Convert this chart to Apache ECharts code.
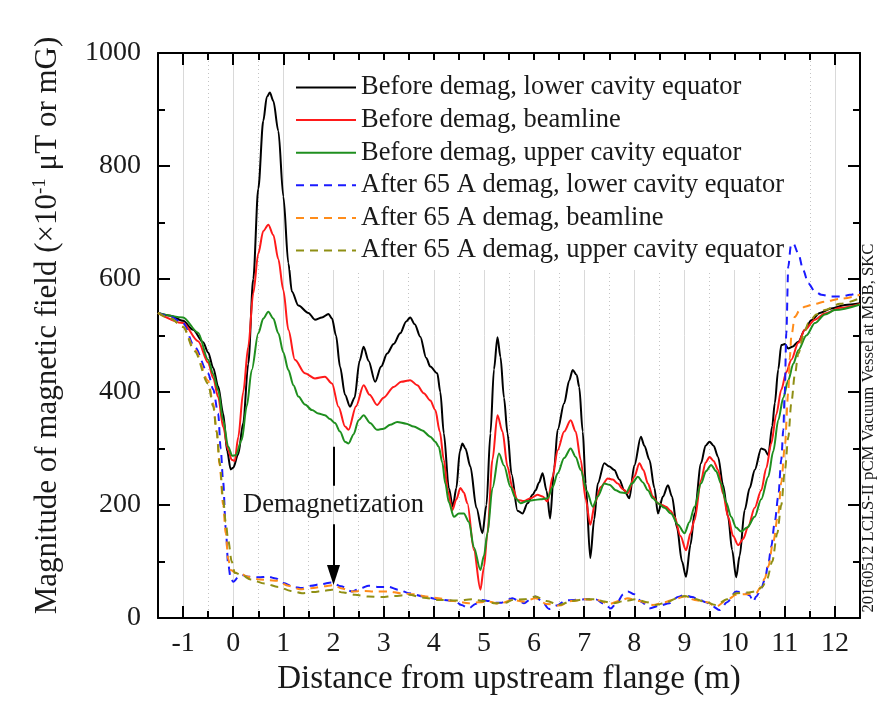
<!DOCTYPE html>
<html>
<head>
<meta charset="utf-8">
<script src="https://cdn.jsdelivr.net/npm/echarts@6/dist/echarts.min.js"></script>
<style>
  html, body { margin: 0; padding: 0; background: #fff; }
  #main { width: 877px; height: 716px; }
</style>
</head>
<body>
<div id="main"></div>
<script>
var seriesNames = [
    'Before demag, lower cavity equator',
    'Before demag, beamline',
    'Before demag, upper cavity equator',
    'After 65 A demag, lower cavity equator',
    'After 65 A demag, beamline',
    'After 65 A demag, upper cavity equator'
];
var seriesColors = ['#000000', '#ff1a1a', '#1f8f1f', '#1a1aff', '#ff8c1a', '#8f8f14'];

var xMajorTicks = [-1, 0, 1, 2, 3, 4, 5, 6, 7, 8, 9, 10, 11, 12];
var xMinorTicks = [-0.5, 0.5, 1.5, 2.5, 3.5, 4.5, 5.5, 6.5, 7.5, 8.5, 9.5, 10.5, 11.5];

// [distance (m), field]
var beforeLower = [[-1.5,540],[-1.25,535],[-1.0,526],[-0.8,510],[-0.6,488],[-0.5,470],[-0.4,443],[-0.3,410],[-0.2,362],[-0.12,295],[-0.05,263],[0.0,266],[0.1,290],[0.2,345],[0.3,450],[0.4,600],[0.5,760],[0.6,880],[0.67,922],[0.73,930],[0.8,915],[0.9,862],[1.0,746],[1.1,628],[1.17,578],[1.3,553],[1.5,540],[1.63,528],[1.77,532],[1.9,538],[1.97,530],[2.05,500],[2.13,445],[2.23,395],[2.33,374],[2.42,390],[2.52,455],[2.6,480],[2.7,455],[2.83,418],[2.95,445],[3.07,468],[3.2,485],[3.33,504],[3.45,525],[3.53,532],[3.62,520],[3.73,498],[3.85,460],[3.93,445],[4.07,433],[4.13,400],[4.2,327],[4.3,230],[4.38,197],[4.45,230],[4.52,295],[4.57,309],[4.63,300],[4.73,268],[4.85,195],[4.97,150],[5.05,200],[5.13,327],[5.2,440],[5.27,497],[5.33,462],[5.4,390],[5.47,327],[5.55,255],[5.67,190],[5.77,185],[5.87,203],[5.97,218],[6.03,226],[6.1,240],[6.17,256],[6.25,225],[6.32,176],[6.4,265],[6.47,333],[6.6,380],[6.7,420],[6.77,439],[6.85,430],[6.9,409],[6.97,330],[7.03,238],[7.12,106],[7.2,175],[7.27,238],[7.4,274],[7.5,268],[7.6,262],[7.7,245],[7.8,226],[7.9,212],[8.0,270],[8.13,321],[8.2,305],[8.3,280],[8.4,230],[8.47,185],[8.57,215],[8.67,235],[8.75,215],[8.85,160],[8.95,100],[9.03,73],[9.12,130],[9.2,185],[9.33,274],[9.42,305],[9.5,312],[9.58,305],[9.67,285],[9.77,235],[9.87,179],[9.95,120],[10.03,72],[10.1,110],[10.2,191],[10.3,230],[10.4,262],[10.53,300],[10.6,298],[10.67,288],[10.75,340],[10.8,380],[10.87,440],[10.93,483],[11.0,485],[11.07,477],[11.15,480],[11.27,489],[11.4,510],[11.53,527],[11.7,540],[11.93,548],[12.2,554],[12.5,557]];
var beforeBeam = [[-1.5,540],[-1.0,522],[-0.7,490],[-0.5,452],[-0.4,425],[-0.3,391],[-0.2,338],[-0.1,297],[-0.03,280],[0.03,278],[0.1,320],[0.2,400],[0.3,480],[0.4,575],[0.5,645],[0.6,685],[0.7,696],[0.8,678],[0.9,635],[1.0,580],[1.1,510],[1.23,457],[1.43,433],[1.63,424],[1.83,427],[1.97,415],[2.1,374],[2.23,339],[2.3,333],[2.45,375],[2.6,412],[2.72,395],[2.87,377],[3.0,390],[3.2,409],[3.35,418],[3.53,421],[3.67,412],[3.8,398],[3.93,385],[4.03,368],[4.12,330],[4.2,280],[4.28,225],[4.37,191],[4.45,210],[4.53,230],[4.6,222],[4.67,203],[4.8,120],[4.93,50],[5.0,90],[5.07,150],[5.17,280],[5.27,359],[5.37,330],[5.47,268],[5.57,230],[5.67,209],[5.8,207],[5.93,212],[6.07,218],[6.17,215],[6.27,206],[6.37,250],[6.47,297],[6.6,330],[6.73,350],[6.83,330],[6.93,280],[7.03,210],[7.12,165],[7.22,205],[7.33,232],[7.47,247],[7.57,245],[7.67,238],[7.77,228],[7.87,221],[8.0,250],[8.1,274],[8.18,262],[8.27,238],[8.37,215],[8.47,203],[8.55,200],[8.63,197],[8.72,190],[8.8,179],[8.92,145],[9.03,120],[9.12,150],[9.2,173],[9.33,244],[9.42,275],[9.5,285],[9.58,278],[9.67,262],[9.77,220],[9.87,179],[9.97,145],[10.07,129],[10.17,140],[10.27,162],[10.4,195],[10.53,226],[10.63,265],[10.73,309],[10.83,360],[10.93,404],[11.03,435],[11.13,457],[11.27,487],[11.4,510],[11.6,528],[11.8,539],[12.1,549],[12.5,556]];
var beforeUpper = [[-1.5,540],[-1.0,532],[-0.7,505],[-0.5,457],[-0.4,432],[-0.3,403],[-0.2,350],[-0.1,303],[-0.02,287],[0.05,288],[0.17,315],[0.27,375],[0.37,439],[0.5,504],[0.6,530],[0.7,542],[0.8,530],[0.9,504],[1.0,470],[1.1,439],[1.2,412],[1.3,392],[1.43,378],[1.57,368],[1.7,362],[1.83,359],[1.93,352],[2.03,345],[2.13,330],[2.23,312],[2.3,309],[2.4,325],[2.5,350],[2.6,359],[2.73,345],[2.87,333],[3.0,335],[3.13,342],[3.27,347],[3.45,344],[3.6,339],[3.77,332],[3.93,321],[4.03,312],[4.1,303],[4.17,275],[4.23,238],[4.3,205],[4.4,179],[4.5,185],[4.6,185],[4.7,170],[4.8,125],[4.93,85],[5.0,110],[5.07,150],[5.17,230],[5.3,291],[5.4,270],[5.53,232],[5.63,212],[5.73,203],[5.87,207],[6.0,209],[6.13,210],[6.27,212],[6.37,232],[6.47,256],[6.6,283],[6.73,300],[6.83,285],[6.93,262],[7.05,225],[7.17,197],[7.27,215],[7.4,238],[7.5,236],[7.63,226],[7.73,222],[7.83,221],[7.95,238],[8.07,250],[8.17,240],[8.27,226],[8.37,212],[8.47,203],[8.6,195],[8.73,185],[8.87,165],[9.0,150],[9.1,170],[9.2,197],[9.33,238],[9.43,260],[9.53,271],[9.63,260],[9.73,238],[9.83,205],[9.93,179],[10.03,160],[10.13,153],[10.25,160],[10.4,179],[10.53,210],[10.67,250],[10.77,295],[10.87,350],[10.97,390],[11.07,421],[11.17,450],[11.27,474],[11.43,500],[11.6,522],[11.8,537],[12.0,545],[12.5,555]];
var afterLower = [[-1.5,540],[-1.25,533],[-1.0,522],[-0.77,480],[-0.5,433],[-0.4,405],[-0.3,362],[-0.25,300],[-0.2,240],[-0.15,160],[-0.1,95],[-0.05,70],[0.0,64],[0.1,72],[0.17,76],[0.3,73],[0.5,72],[0.7,73],[0.85,70],[1.0,62],[1.2,55],[1.37,53],[1.55,57],[1.75,60],[1.97,63],[2.15,56],[2.37,47],[2.55,53],[2.7,57],[2.9,55],[3.1,55],[3.3,50],[3.5,44],[3.8,38],[4.1,33],[4.3,31],[4.43,29],[4.55,23],[4.7,17],[4.83,25],[4.97,32],[5.1,30],[5.23,27],[5.35,27],[5.45,32],[5.57,35],[5.7,30],[5.8,26],[5.93,33],[6.03,38],[6.15,30],[6.3,16],[6.45,22],[6.63,31],[6.8,32],[7.0,33],[7.23,33],[7.4,25],[7.53,17],[7.65,27],[7.78,42],[7.87,47],[8.0,42],[8.15,28],[8.3,17],[8.5,22],[8.7,26],[8.87,37],[9.0,41],[9.15,37],[9.3,32],[9.43,28],[9.57,20],[9.7,14],[9.85,28],[10.03,47],[10.2,44],[10.3,40],[10.37,29],[10.43,38],[10.52,50],[10.6,67],[10.67,95],[10.73,126],[10.8,170],[10.87,215],[10.93,280],[10.97,333],[11.0,400],[11.03,504],[11.07,622],[11.12,658],[11.17,663],[11.27,645],[11.37,615],[11.47,592],[11.6,578],[11.73,572],[11.93,569],[12.13,569],[12.3,572],[12.5,577]];
var afterBeam = [[-1.5,540],[-1.25,530],[-1.0,516],[-0.77,475],[-0.5,420],[-0.4,380],[-0.33,330],[-0.27,270],[-0.2,200],[-0.15,150],[-0.1,105],[-0.05,85],[0.05,80],[0.13,79],[0.3,73],[0.53,68],[0.7,67],[0.87,66],[1.1,57],[1.33,51],[1.6,53],[1.8,56],[2.0,58],[2.17,52],[2.37,47],[2.6,48],[2.83,47],[3.1,47],[3.33,44],[3.6,42],[3.85,38],[4.1,35],[4.4,30],[4.7,26],[4.9,28],[5.1,29],[5.3,25],[5.57,32],[5.8,29],[6.03,35],[6.25,25],[6.5,22],[6.75,30],[7.0,33],[7.25,32],[7.5,25],[7.7,30],[7.87,35],[8.1,30],[8.37,23],[8.6,28],[8.8,33],[9.0,38],[9.2,32],[9.45,28],[9.63,20],[9.85,32],[10.03,41],[10.2,42],[10.43,44],[10.52,55],[10.6,70],[10.67,91],[10.77,135],[10.87,185],[10.93,240],[11.0,303],[11.07,400],[11.1,460],[11.13,498],[11.2,533],[11.3,545],[11.4,551],[11.6,556],[11.8,560],[12.1,565],[12.5,572]];
var afterUpper = [[-1.5,540],[-1.25,530],[-1.0,515],[-0.77,472],[-0.5,415],[-0.4,375],[-0.33,330],[-0.27,275],[-0.2,210],[-0.15,170],[-0.1,138],[-0.03,100],[0.03,80],[0.17,76],[0.35,68],[0.63,61],[0.9,55],[1.15,48],[1.37,44],[1.6,46],[1.8,48],[1.97,50],[2.2,45],[2.43,41],[2.7,38],[2.97,37],[3.2,39],[3.5,41],[3.8,36],[4.1,32],[4.45,31],[4.77,33],[5.0,30],[5.23,26],[5.43,27],[5.57,32],[5.8,33],[6.03,38],[6.25,30],[6.5,23],[6.75,30],[7.0,33],[7.23,33],[7.4,29],[7.57,26],[7.8,30],[8.03,33],[8.25,28],[8.43,23],[8.65,28],[8.85,35],[9.0,39],[9.2,34],[9.4,29],[9.63,23],[9.85,33],[10.03,44],[10.25,45],[10.43,47],[10.55,55],[10.65,70],[10.75,100],[10.85,150],[10.93,200],[11.0,260],[11.07,320],[11.13,380],[11.2,430],[11.27,468],[11.37,500],[11.47,522],[11.63,537],[11.8,545],[12.1,556],[12.5,566]];

// annotation: "Demagnetization" with arrow at x = 2 m
var demagX = 2;
var demagTextY = 200;
var demagUpperLine = [303, 234];
var demagArrow = [166, 76];

var serif = 'Liberation Serif';
var ink = '#1a1a1a';
var myChart = echarts.init(document.getElementById('main'));

function xAxisPart(pos, ticks, tickLen, withLine, grid, labels) {
    return {
        type: 'value', min: -1.5, max: 12.5, position: pos,
        axisLine: { show: withLine, onZero: false, lineStyle: { color: '#000', width: 2 } },
        axisTick: { show: true, inside: true, length: tickLen, customValues: ticks,
            lineStyle: { color: '#000', width: 2 } },
        axisLabel: { show: labels, customValues: ticks, margin: 12,
            fontFamily: serif, fontSize: 28, color: ink },
        splitLine: grid
    };
}

var solidGrid = { show: true, lineStyle: { color: '#d9d9d9', width: 1 } };
var dottedGrid = { show: true, lineStyle: { color: '#c4c4c4', width: 1, type: [1, 3] } };

var xAxes = [
    xAxisPart('bottom', xMajorTicks, 12, true, solidGrid, true),
    xAxisPart('bottom', xMinorTicks, 7, false, dottedGrid, false),
    xAxisPart('top', xMajorTicks, 12, true, { show: false }, false),
    xAxisPart('top', xMinorTicks, 7, false, { show: false }, false)
];
xAxes[0].name = 'Distance from upstream flange (m)';
xAxes[0].nameLocation = 'middle';
xAxes[0].nameGap = 40;
xAxes[0].nameTextStyle = { fontFamily: serif, fontSize: 33, color: ink };

function yAxisPart(pos, labels) {
    return {
        type: 'value', min: 0, max: 1000, interval: 200, position: pos,
        axisLine: { show: true, onZero: false, lineStyle: { color: '#000', width: 2 } },
        axisTick: { show: true, inside: true, length: 12, lineStyle: { color: '#000', width: 2 } },
        minorTick: { show: true, splitNumber: 2, length: 7, lineStyle: { color: '#000', width: 2 } },
        axisLabel: { show: labels, margin: 17, fontFamily: serif, fontSize: 28, color: ink,
            formatter: function (v) { return String(v); } },
        splitLine: { show: false }
    };
}
var yAxes = [yAxisPart('left', true), yAxisPart('right', false)];
yAxes[0].name = 'Magnitude of magnetic field (×10{sup|-1} μT or mG)';
yAxes[0].nameLocation = 'middle';
yAxes[0].nameGap = 93;
yAxes[0].nameTextStyle = {
    fontFamily: serif, fontSize: 31, color: ink, lineHeight: 34,
    padding: [0, 0, 0, 20],
    rich: { sup: { fontFamily: serif, fontSize: 19, color: ink, verticalAlign: 'top', lineHeight: 19 } }
};

var seriesData = [beforeLower, beforeBeam, beforeUpper, afterLower, afterBeam, afterUpper];
var series = seriesData.map(function (d, i) {
    return {
        name: seriesNames[i],
        type: 'line',
        data: d,
        xAxisIndex: 0,
        yAxisIndex: 0,
        symbol: 'none',
        smooth: 0.3,
        smoothMonotone: 'x',
        z: 3 + i,
        lineStyle: { color: seriesColors[i], width: 2, type: i < 3 ? 'solid' : [8, 6] },
        itemStyle: { color: seriesColors[i] }
    };
});

series[0].markLine = {
    silent: true,
    animation: false,
    symbol: ['none', 'none'],
    label: { show: false },
    lineStyle: { color: '#000', width: 2, type: 'solid' },
    data: [
        [{ coord: [demagX, demagUpperLine[0]] }, { coord: [demagX, demagUpperLine[1]] }],
        [{ coord: [demagX, demagArrow[0]] },
         { coord: [demagX, demagArrow[1]], symbol: 'triangle', symbolSize: [13, 20] }]
    ]
};
series[0].markPoint = {
    silent: true,
    animation: false,
    symbol: 'rect',
    symbolSize: 0,
    data: [{ coord: [demagX, demagTextY] }],
    label: { show: true, position: 'inside', formatter: 'Demagnetization',
        fontFamily: serif, fontSize: 26.5, color: ink }
};

var option = {
    backgroundColor: '#fff',
    animation: false,
    grid: { left: 158, right: 17, top: 53, bottom: 98, containLabel: false },
    xAxis: xAxes,
    yAxis: yAxes,
    legend: {
        orient: 'vertical',
        left: 290,
        top: 60,
        padding: [14, 4, 6, 5],
        backgroundColor: '#fff',
        itemWidth: 60,
        itemHeight: 14,
        itemGap: 5.6,
        itemStyle: { opacity: 0 },
        textStyle: { fontFamily: serif, fontSize: 26.5, color: ink, lineHeight: 26 },
        data: seriesNames
    },
    graphic: [{
        type: 'text',
        x: 869,
        y: 428,
        rotation: Math.PI / 2,
        style: {
            text: '20160512 LCLS-II pCM Vacuum Vessel at MSB, SKC',
            font: '16.7px "Liberation Serif"',
            fill: ink,
            textAlign: 'center',
            textVerticalAlign: 'middle'
        }
    }],
    series: series
};
myChart.setOption(option);
</script>
</body>
</html>
